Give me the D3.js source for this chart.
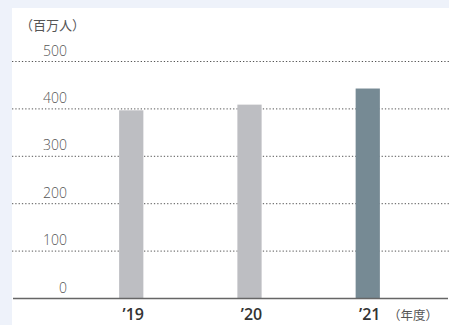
<!DOCTYPE html>
<html>
<head>
<meta charset="utf-8">
<script src="https://cdn.jsdelivr.net/npm/d3@7"></script>
<style>
  html, body { margin: 0; padding: 0; background: #eef2fa; }
  svg { display: block; }
  text { font-family: "Open Sans", "Noto Sans CJK JP", sans-serif; }
</style>
</head>
<body>
<div id="chart"></div>
<script>
// data
var years = ["’19", "’20", "’21"];
var visitors = [397, 409, 443];
var barColors = ["#bdbec2", "#bdbec2", "#768a94"];
var yTicks = [0, 100, 200, 300, 400, 500];

var width = 449, height = 325;

var svg = d3.select("#chart")
  .append("svg")
  .attr("width", width)
  .attr("height", height);

// white panel
svg.append("rect")
  .attr("x", 12)
  .attr("y", 8)
  .attr("width", width - 12)
  .attr("height", height - 8)
  .style("fill", "white");

var y = d3.scaleLinear().domain([0, 500]).range([298.5, 61.5]);
var x = d3.scaleBand().domain(years).range([73, 426]).paddingInner(0.795).paddingOuter(0.39);

// dotted gridlines
svg.selectAll(".grid")
  .data(yTicks.filter(function(d){ return d > 0; }))
  .enter().append("line")
  .attr("class", "grid")
  .attr("x1", 12)
  .attr("x2", width)
  .attr("y1", function(d){ return y(d); })
  .attr("y2", function(d){ return y(d); })
  .style("stroke", "#555")
  .style("stroke-width", 1)
  .style("stroke-dasharray", "1.3,2");

// tick labels
svg.selectAll(".ylab")
  .data(yTicks)
  .enter().append("text")
  .attr("class", "ylab")
  .attr("x", 67)
  .attr("y", function(d){ return y(d) - 6; })
  .attr("text-anchor", "end")
  .style("font-size", "14px")
  .style("font-weight", 300)
  .style("fill", "#555")
  .text(function(d){ return d; });

// bars
svg.selectAll(".bar")
  .data(visitors)
  .enter().append("rect")
  .attr("class", "bar")
  .attr("x", function(d, i){ return x(years[i]); })
  .attr("width", x.bandwidth())
  .attr("y", function(d){ return y(d); })
  .attr("height", function(d){ return y(0) - y(d); })
  .style("fill", function(d, i){ return barColors[i]; });

// baseline
svg.append("line")
  .attr("x1", 13)
  .attr("x2", 448)
  .attr("y1", y(0))
  .attr("y2", y(0))
  .style("stroke", "#666")
  .style("stroke-width", 1.5);

// x labels
svg.selectAll(".xlab")
  .data(years)
  .enter().append("text")
  .attr("class", "xlab")
  .attr("x", function(d){ return x(d) + x.bandwidth() / 2 + 2; })
  .attr("y", 320)
  .attr("text-anchor", "middle")
  .style("font-size", "16px")
  .style("font-weight", 600)
  .style("fill", "#333")
  .text(function(d){ return d; });

svg.append("text")
  .attr("x", 20)
  .attr("y", 30)
  .style("font-size", "13px")
  .style("fill", "#555")
  .style("font-family", "'Noto Sans CJK JP', sans-serif")
  .text("（百万人）");

svg.append("text")
  .attr("x", 388)
  .attr("y", 320)
  .style("font-size", "12.5px")
  .style("fill", "#555")
  .style("font-family", "'Noto Sans CJK JP', sans-serif")
  .text("（年度）");
</script>
</body>
</html>
